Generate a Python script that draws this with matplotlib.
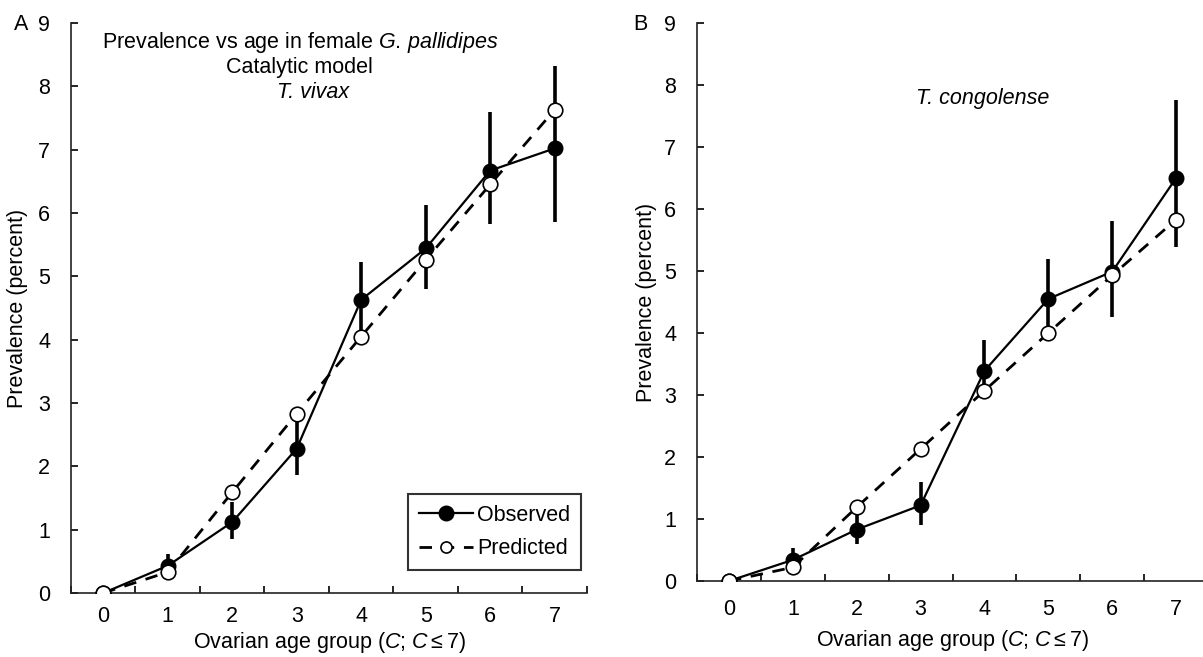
import matplotlib
import matplotlib.pyplot as plt
from matplotlib.ticker import FixedLocator, NullFormatter

matplotlib.use("Agg")

plt.rcParams["font.family"] = ["Liberation Sans", "DejaVu Sans"]
plt.rcParams["mathtext.fontset"] = "custom"
plt.rcParams["mathtext.it"] = "Liberation Sans:italic"
plt.rcParams["mathtext.rm"] = "Liberation Sans"

AGE = [0, 1, 2, 3, 4, 5, 6, 7]

# panel A, T. vivax
VIVAX_OBS = [0, 0.43, 1.12, 2.28, 4.63, 5.44, 6.67, 7.02]
VIVAX_LO = [0, 0.25, 0.86, 1.86, 4.02, 4.80, 5.83, 5.86]
VIVAX_HI = [0, 0.62, 1.44, 2.73, 5.22, 6.12, 7.60, 8.32]
VIVAX_PRED = [0, 0.33, 1.59, 2.83, 4.05, 5.26, 6.45, 7.63]

# panel B, T. congolense
CONGO_OBS = [0, 0.34, 0.83, 1.22, 3.39, 4.55, 4.99, 6.50]
CONGO_LO = [0, 0.20, 0.60, 0.91, 2.95, 3.95, 4.25, 5.38]
CONGO_HI = [0, 0.53, 1.10, 1.60, 3.89, 5.19, 5.80, 7.76]
CONGO_PRED = [0, 0.22, 1.19, 2.13, 3.07, 4.00, 4.93, 5.83]

FS = 15.5


def panel(ax, obs, lo, hi, pred, xpad):
    yerr = [[o - l for o, l in zip(obs, lo)], [h - o for o, h in zip(obs, hi)]]
    ax.errorbar(AGE, obs, yerr=yerr, fmt="none", ecolor="black", elinewidth=2.6, capsize=0, zorder=2)
    ax.plot(AGE, obs, "-o", color="black", linewidth=1.6, markersize=10.5,
            markerfacecolor="black", markeredgecolor="black", label="Observed", zorder=3)
    ax.plot(AGE, pred, "--o", color="black", linewidth=2.0, dashes=(4.5, 3.5), markersize=10.5,
            markerfacecolor="white", markeredgecolor="black", markeredgewidth=1.2,
            label="Predicted", zorder=4)
    ax.set_xlim(-0.5, 7.5)
    ax.set_ylim(0, 9)
    for side in ["top", "right"]:
        ax.spines[side].set_visible(False)
    for side in ["left", "bottom"]:
        ax.spines[side].set_linewidth(1.2)
        ax.spines[side].set_color("#222222")
    ax.set_xticks(AGE)
    ax.xaxis.set_minor_locator(FixedLocator([i + 0.5 for i in range(-1, 8)]))
    ax.xaxis.set_minor_formatter(NullFormatter())
    ax.tick_params(axis="x", which="major", length=0, pad=xpad, labelsize=FS)
    ax.tick_params(axis="x", which="minor", direction="in", length=5, width=1.2)
    ax.set_yticks(range(10))
    ax.tick_params(axis="y", direction="in", length=5, width=1.2, pad=15, labelsize=FS)
    ax.set_xlabel(r"Ovarian age group ($C$; $C \leq 7$)", fontsize=FS)
    ax.set_ylabel("Prevalence (percent)", fontsize=FS)


fig = plt.figure(figsize=(12.03, 6.57), dpi=100)
ax_a = fig.add_axes([0.0590, 0.0974, 0.4289, 0.8676])
ax_b = fig.add_axes([0.5794, 0.1157, 0.4248, 0.8493])

panel(ax_a, VIVAX_OBS, VIVAX_LO, VIVAX_HI, VIVAX_PRED, 9)
panel(ax_b, CONGO_OBS, CONGO_LO, CONGO_HI, CONGO_PRED, 13)

ax_a.xaxis.set_label_coords(0.5, -0.087)
ax_a.xaxis.label.set_va("center")
ax_a.yaxis.set_label_coords(-0.104, 0.5)
ax_a.yaxis.label.set_va("center")
ax_b.xaxis.set_label_coords(0.5, -0.107)
ax_b.xaxis.label.set_va("center")
ax_b.yaxis.set_label_coords(-0.098, 0.5)
ax_b.yaxis.label.set_va("center")

ax_a.text(3.05, 8.69, r"Prevalence vs age in female $G.\,pallidipes$", ha="center", va="center", fontsize=FS)
ax_a.text(3.05, 8.29, "Catalytic model", ha="center", va="center", fontsize=FS)
ax_a.text(3.25, 7.90, "T. vivax", ha="center", va="center", fontsize=FS, style="italic")
ax_b.text(3.97, 7.79, "T. congolense", ha="center", va="center", fontsize=FS, style="italic")

leg = ax_a.legend(loc="lower right", bbox_to_anchor=(0.988, 0.040), borderaxespad=0,
                  fontsize=FS, frameon=True, fancybox=False, handlelength=2.5,
                  handletextpad=0.2, borderpad=0.5, labelspacing=0.6)
leg.get_frame().set_edgecolor("black")
leg.get_frame().set_linewidth(1.5)
leg.legend_handles[1].set_markersize(8)

fig.text(21 / 1203, 1 - 24 / 657, "A", ha="center", va="center", fontsize=FS)
fig.text(640 / 1203, 1 - 24 / 657, "B", ha="center", va="center", fontsize=FS)

fig.savefig("out.png", dpi=100)
